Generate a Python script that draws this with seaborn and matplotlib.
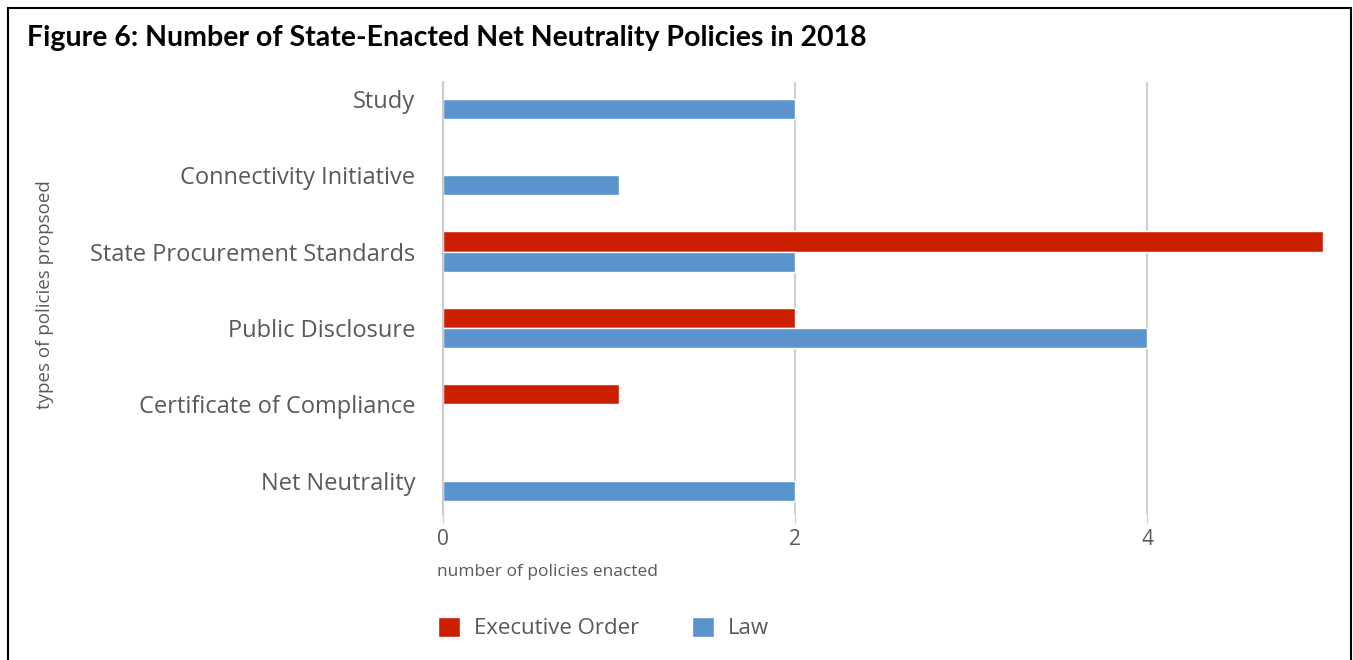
import matplotlib
matplotlib.use("Agg")
import matplotlib.pyplot as plt
from matplotlib.patches import Rectangle
import seaborn as sns
import pandas as pd

# Datos
categorias = ["Study", "Connectivity Initiative", "State Procurement Standards",
              "Public Disclosure", "Certificate of Compliance", "Net Neutrality"]
executive_order = [0, 0, 5, 2, 1, 0]
law = [2, 1, 2, 4, 0, 2]
series = ["Executive Order", "Law"]
colores = ["#CC1F00", "#5B93CC"]
ticks_x = [0, 2, 4]

df = pd.DataFrame({
    "policy": categorias * 2,
    "tipo": [series[0]] * len(categorias) + [series[1]] * len(categorias),
    "valor": executive_order + law,
})

sns.set_style("white")
plt.rcParams["font.family"] = ["Open Sans", "DejaVu Sans"]

fig = plt.figure(figsize=(13.53, 6.6), dpi=100)
ax = fig.add_axes([443 / 1353, 1 - 515 / 660, (1323 - 443) / 1353, (515 - 82) / 660])

sns.barplot(data=df, y="policy", x="valor", hue="tipo", order=categorias,
            hue_order=series, palette=colores, orient="h", width=0.53,
            saturation=1, ax=ax, legend=True)

ax.set_xlim(0, 5)
ax.set_ylim(5.45, -0.22)
ax.set_xticks(ticks_x)
ax.set_xticklabels([str(t) for t in ticks_x], fontsize=15, color="#595959")
ax.tick_params(axis="y", labelsize=17, labelcolor="#595959", length=0, pad=20)
ax.tick_params(axis="x", length=6, color="#cccccc", pad=4, bottom=True)
ax.xaxis.grid(True, color="#d0d0d0", linewidth=1.5)
ax.set_axisbelow(True)
for s in ["top", "right", "bottom"]:
    ax.spines[s].set_visible(False)
ax.spines["left"].set_color("#cccccc")
ax.spines["left"].set_linewidth(1.5)

ax.set_ylabel("")
ax.set_xlabel("")
fig.text(45 / 1353, 1 - 295 / 660, "types of policies propsoed", rotation=90,
         ha="center", va="center", fontsize=13.5, color="#595959")
fig.text(437 / 1353, 1 - 572 / 660, "number of policies enacted",
         ha="left", va="center", fontsize=12.5, color="#595959")

# Titulo
fig.text(27 / 1353, 1 - 38 / 660,
         "Figure 6: Number of State-Enacted Net Neutrality Policies in 2018",
         ha="left", va="center", fontsize=20.5, fontweight="bold", color="black",
         family=["Lato", "DejaVu Sans"])

# Leyenda
handles, labels = ax.get_legend_handles_labels()
ax.legend_.remove()
fig.legend(handles, labels, loc="center left", bbox_to_anchor=(418 / 1353, 1 - 628 / 660),
           ncol=2, frameon=False, fontsize=16, handlelength=1.0, handleheight=1.0,
           columnspacing=2.4, handletextpad=0.6, labelcolor="#595959")

# Marco negro
fig.patches.append(Rectangle((8 / 1353, -0.05), (1351 - 8) / 1353, 1.05 - 8 / 660,
                             transform=fig.transFigure, fill=False,
                             edgecolor="black", linewidth=1.5))

fig.savefig("out.png", dpi=100)
